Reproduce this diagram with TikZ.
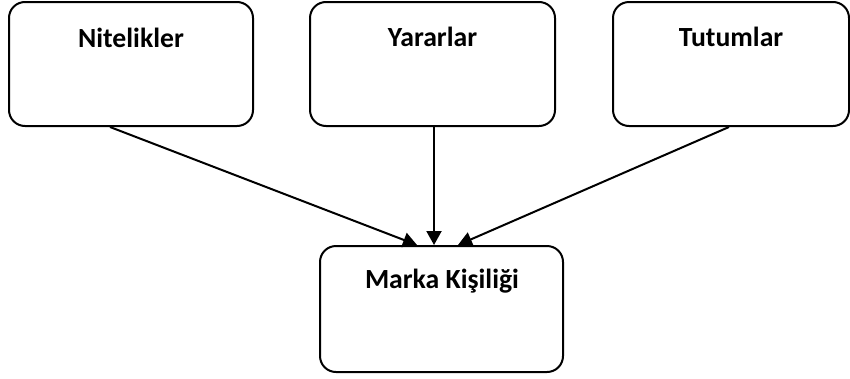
\documentclass[tikz,border=0pt]{standalone}
\usepackage{fontspec}
\setmainfont{Carlito}
\usetikzlibrary{arrows.meta}
\begin{document}
\begin{tikzpicture}[x=1pt,y=-1pt,
  boxstyle/.style={draw=black, line width=2pt, rounded corners=16pt, fill=white, inner sep=0pt},
  lbl/.style={anchor=base, font=\fontsize{27.7}{32}\selectfont\bfseries, inner sep=0pt},
  arr/.style={draw=black, line width=2pt, -{Triangle[length=14pt,width=15pt]}}]
\useasboundingbox (0,0) rectangle (850,378);
\node[boxstyle, minimum width=244pt, minimum height=124pt] (nit) at (131,64) {};
\node[boxstyle, minimum width=245pt, minimum height=124pt] (yar) at (432.5,64) {};
\node[boxstyle, minimum width=236pt, minimum height=124pt] (tut) at (731,64) {};
\node[boxstyle, minimum width=243pt, minimum height=126pt] (mk) at (441.5,309) {};
\node[lbl] (nitt) at (131,47) {Nitelikler};
\node[lbl] (yart) at (432.5,46) {Yararlar};
\node[lbl] (tutt) at (731,46) {Tutumlar};
\node[lbl] (mkt) at (442,288) {Marka Kişiliği};
\draw[arr] (nit.south -| 110,0) -- (mk.north -| 417,0);
\draw[arr] (yar.south -| 434,0) -- (mk.north -| 434,0);
\draw[arr] (tut.south -| 729,0) -- (mk.north -| 458,0);
\end{tikzpicture}
\end{document}
